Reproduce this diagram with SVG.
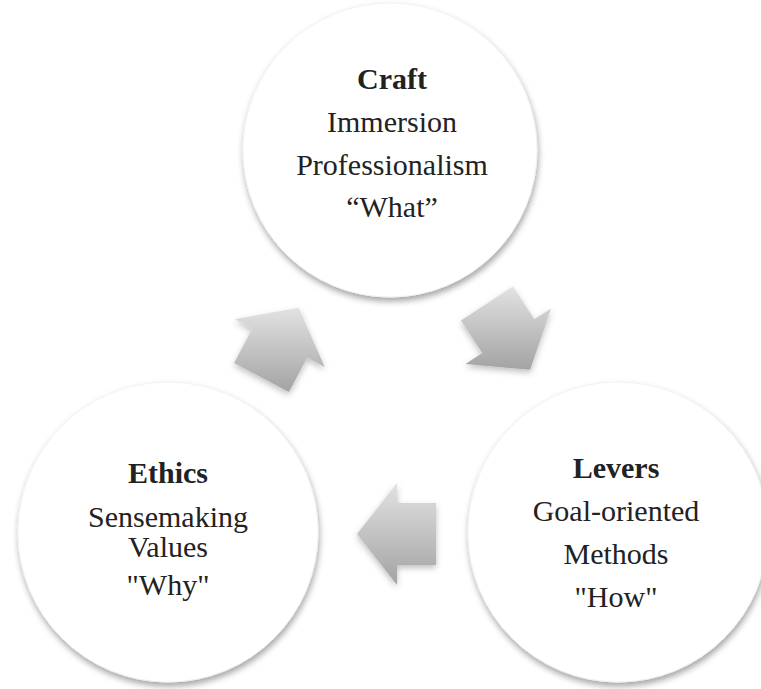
<svg xmlns="http://www.w3.org/2000/svg" width="761" height="689" viewBox="0 0 761 689">
<style>
.t{font-family:"Liberation Serif","DejaVu Serif",serif;font-size:30px;fill:#222222;text-anchor:middle}
.b{font-weight:bold}
.c{fill:#ffffff;stroke:#f2f2f2;stroke-width:1}
.a{fill:url(#ag);filter:url(#as)}
</style>
<defs>
<linearGradient id="ag" x1="0" y1="0" x2="0" y2="1">
<stop offset="0" stop-color="#e2e2e2"/>
<stop offset="1" stop-color="#a3a3a3"/>
</linearGradient>
<filter id="cs" x="-10%" y="-10%" width="120%" height="125%">
<feDropShadow dx="1" dy="4" stdDeviation="3" flood-color="#000" flood-opacity="0.35"/>
</filter>
<filter id="as" x="-20%" y="-20%" width="140%" height="150%">
<feDropShadow dx="0" dy="3" stdDeviation="3" flood-color="#000" flood-opacity="0.25"/>
</filter>
</defs>
<rect width="761" height="689" fill="#ffffff"/>
<g id="connectors">
<polygon class="a" points="234.1,363 252.4,328.6 234.8,319.2 298.6,307.7 324.8,367 307.2,357.6 288.9,392"/>
<polygon class="a" points="513,286.6 534.3,319.3 551.1,308.4 530.1,369.8 465.5,364 482.3,353.1 461,320.4"/>
<polygon class="a" points="436,565 397,565 397,585 357,534 397,483 397,503 436,503"/>
</g>
<g id="craft">
<circle class="c" cx="390" cy="150" r="147" filter="url(#cs)"/>
<text class="t b" x="392" y="89">Craft</text>
<text class="t" x="392" y="132">Immersion</text>
<text class="t" x="392" y="175">Professionalism</text>
<text class="t" x="392" y="217">“What”</text>
</g>
<g id="ethics">
<circle class="c" cx="168" cy="532" r="150" filter="url(#cs)"/>
<text class="t b" x="168" y="483">Ethics</text>
<text class="t" x="168" y="527">Sensemaking</text>
<text class="t" x="168" y="557">Values</text>
<text class="t" x="168" y="595">"Why"</text>
</g>
<g id="levers">
<circle class="c" cx="618" cy="532" r="150" filter="url(#cs)"/>
<text class="t b" x="616" y="478">Levers</text>
<text class="t" x="616" y="521">Goal-oriented</text>
<text class="t" x="616" y="564">Methods</text>
<text class="t" x="616" y="607">"How"</text>
</g>
</svg>
